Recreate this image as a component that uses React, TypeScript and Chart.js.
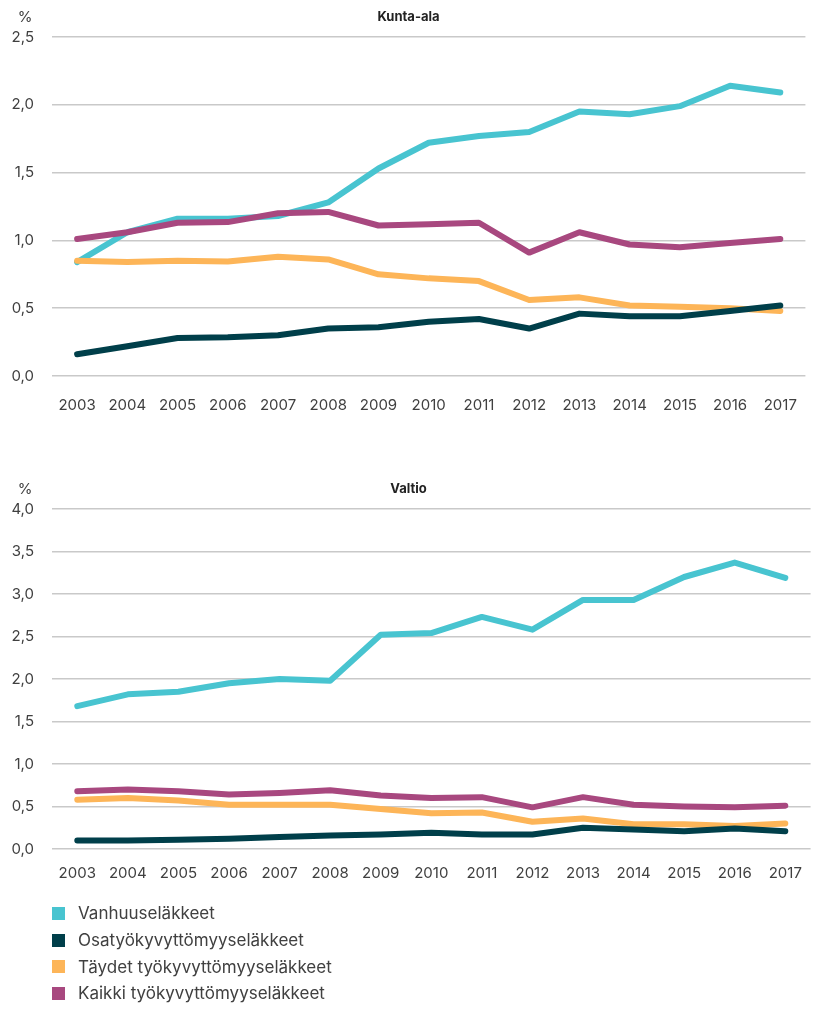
import React, { useEffect, useRef } from "react";
import { Chart, registerables } from "chart.js";

Chart.register(...registerables);

const years = ["2003","2004","2005","2006","2007","2008","2009","2010","2011","2012","2013","2014","2015","2016","2017"];

const seriesNames = [
  "Vanhuuseläkkeet",
  "Osatyökyvyttömyyseläkkeet",
  "Täydet työkyvyttömyyseläkkeet",
  "Kaikki työkyvyttömyyseläkkeet",
];
const seriesColors = ["#48C4D0", "#003F4A", "#FDB558", "#A8487F"];
const seriesOrder = [3, 1, 2, 0];

// Kunta-ala
const kuntaVanhuus = [0.84, 1.06, 1.16, 1.16, 1.18, 1.28, 1.53, 1.72, 1.77, 1.80, 1.95, 1.93, 1.99, 2.14, 2.09];
const kuntaOsa = [0.16, 0.22, 0.28, 0.285, 0.30, 0.35, 0.36, 0.40, 0.42, 0.35, 0.46, 0.44, 0.44, 0.48, 0.52];
const kuntaTaydet = [0.85, 0.84, 0.85, 0.845, 0.88, 0.86, 0.75, 0.72, 0.70, 0.56, 0.58, 0.52, 0.51, 0.50, 0.48];
const kuntaKaikki = [1.01, 1.06, 1.13, 1.135, 1.20, 1.21, 1.11, 1.12, 1.13, 0.91, 1.06, 0.97, 0.95, 0.98, 1.01];

// Valtio
const valtioVanhuus = [1.68, 1.82, 1.85, 1.95, 2.00, 1.98, 2.52, 2.54, 2.73, 2.58, 2.93, 2.93, 3.20, 3.37, 3.19];
const valtioOsa = [0.10, 0.10, 0.11, 0.12, 0.14, 0.16, 0.17, 0.19, 0.17, 0.17, 0.25, 0.23, 0.21, 0.24, 0.21];
const valtioTaydet = [0.58, 0.60, 0.57, 0.52, 0.52, 0.52, 0.47, 0.42, 0.43, 0.32, 0.36, 0.29, 0.29, 0.27, 0.30];
const valtioKaikki = [0.68, 0.70, 0.68, 0.64, 0.66, 0.69, 0.63, 0.60, 0.61, 0.49, 0.61, 0.52, 0.50, 0.49, 0.51];

const FONT = "Inter, 'Open Sans', sans-serif";
const TEXT = "#404040";

function makeConfig(title: string, data: number[][], yMax: number, padTop: number, padBottom: number, xPad: number) {
  const headerPlugin = {
    id: "header",
    afterDraw(chart: any) {
      const { ctx, chartArea } = chart;
      ctx.save();
      ctx.fillStyle = TEXT;
      ctx.textBaseline = "middle";
      ctx.font = `15px ${FONT}`;
      ctx.textAlign = "center";
      ctx.fillText("%", 25, chartArea.top - 20);
      ctx.font = `bold 13px ${FONT}`;
      ctx.fillStyle = "#222";
      ctx.fillText(title, chart.width / 2, chartArea.top - 20);
      ctx.restore();
    },
  };
  return {
    type: "line" as const,
    data: {
      labels: years,
      datasets: data.map((d, i) => ({
        label: seriesNames[i],
        data: d,
        borderColor: seriesColors[i],
        backgroundColor: seriesColors[i],
        borderWidth: 6,
        pointRadius: 0,
        pointHoverRadius: 0,
        tension: 0,
        borderCapStyle: "round" as const,
        borderJoinStyle: "round" as const,
        order: seriesOrder[i],
        fill: false,
      })),
    },
    options: {
      animation: false as const,
      responsive: false,
      maintainAspectRatio: false,
      layout: { padding: { top: padTop, bottom: padBottom, left: 0, right: 3 } },
      plugins: {
        legend: { display: false },
        tooltip: { enabled: false },
        title: { display: false },
      },
      scales: {
        x: {
          offset: true,
          grid: { display: false, drawTicks: false },
          border: { display: false },
          ticks: {
            color: TEXT,
            font: { family: FONT, size: 15 },
            padding: xPad,
            maxRotation: 0,
            autoSkip: false,
          },
        },
        y: {
          min: 0,
          max: yMax,
          grid: { color: "#c9c9c9", lineWidth: 1.5, drawTicks: false },
          border: { display: false },
          afterFit(scale: any) {
            scale.width = 52;
          },
          ticks: {
            stepSize: 0.5,
            color: TEXT,
            font: { family: FONT, size: 15 },
            padding: 18,
            callback: (v: any) => Number(v).toFixed(1).replace(".", ","),
          },
        },
      },
    },
    plugins: [headerPlugin],
  };
}

function LineChart({ title, data, yMax, height, padTop, padBottom, xPad }: any) {
  const ref = useRef<HTMLCanvasElement | null>(null);
  useEffect(() => {
    if (!ref.current) return;
    const chart = new Chart(ref.current, makeConfig(title, data, yMax, padTop, padBottom, xPad) as any);
    return () => chart.destroy();
  }, []);
  return (
    <div style={{ width: 817, height }}>
      <canvas ref={ref} width={817} height={height} style={{ width: 817, height, display: "block" }} />
    </div>
  );
}

export default function App() {
  useEffect(() => {
    document.body.style.margin = "0";
    document.body.style.background = "#ffffff";
  }, []);
  return (
    <div style={{ position: "relative", width: 817, height: 1020, background: "#fff", fontFamily: FONT }}>
      <div style={{ position: "absolute", left: 0, top: 0 }}>
        <LineChart title="Kunta-ala" data={[kuntaVanhuus, kuntaOsa, kuntaTaydet, kuntaKaikki]} yMax={2.5} height={442} padTop={37} padBottom={8} xPad={20} />
      </div>
      <div style={{ position: "absolute", left: 0, top: 460 }}>
        <LineChart title="Valtio" data={[valtioVanhuus, valtioOsa, valtioTaydet, valtioKaikki]} yMax={4.0} height={447} padTop={49} padBottom={10} xPad={15} />
      </div>
      <div style={{ position: "absolute", left: 52, top: 900 }}>
        {seriesNames.map((n, i) => (
          <div key={n} style={{ display: "flex", alignItems: "center", height: 26.7 }}>
            <span style={{ display: "inline-block", width: 13, height: 13, background: seriesColors[i], marginRight: 13 }} />
            <span style={{ fontSize: 17, color: TEXT, fontFamily: FONT }}>{n}</span>
          </div>
        ))}
      </div>
    </div>
  );
}
